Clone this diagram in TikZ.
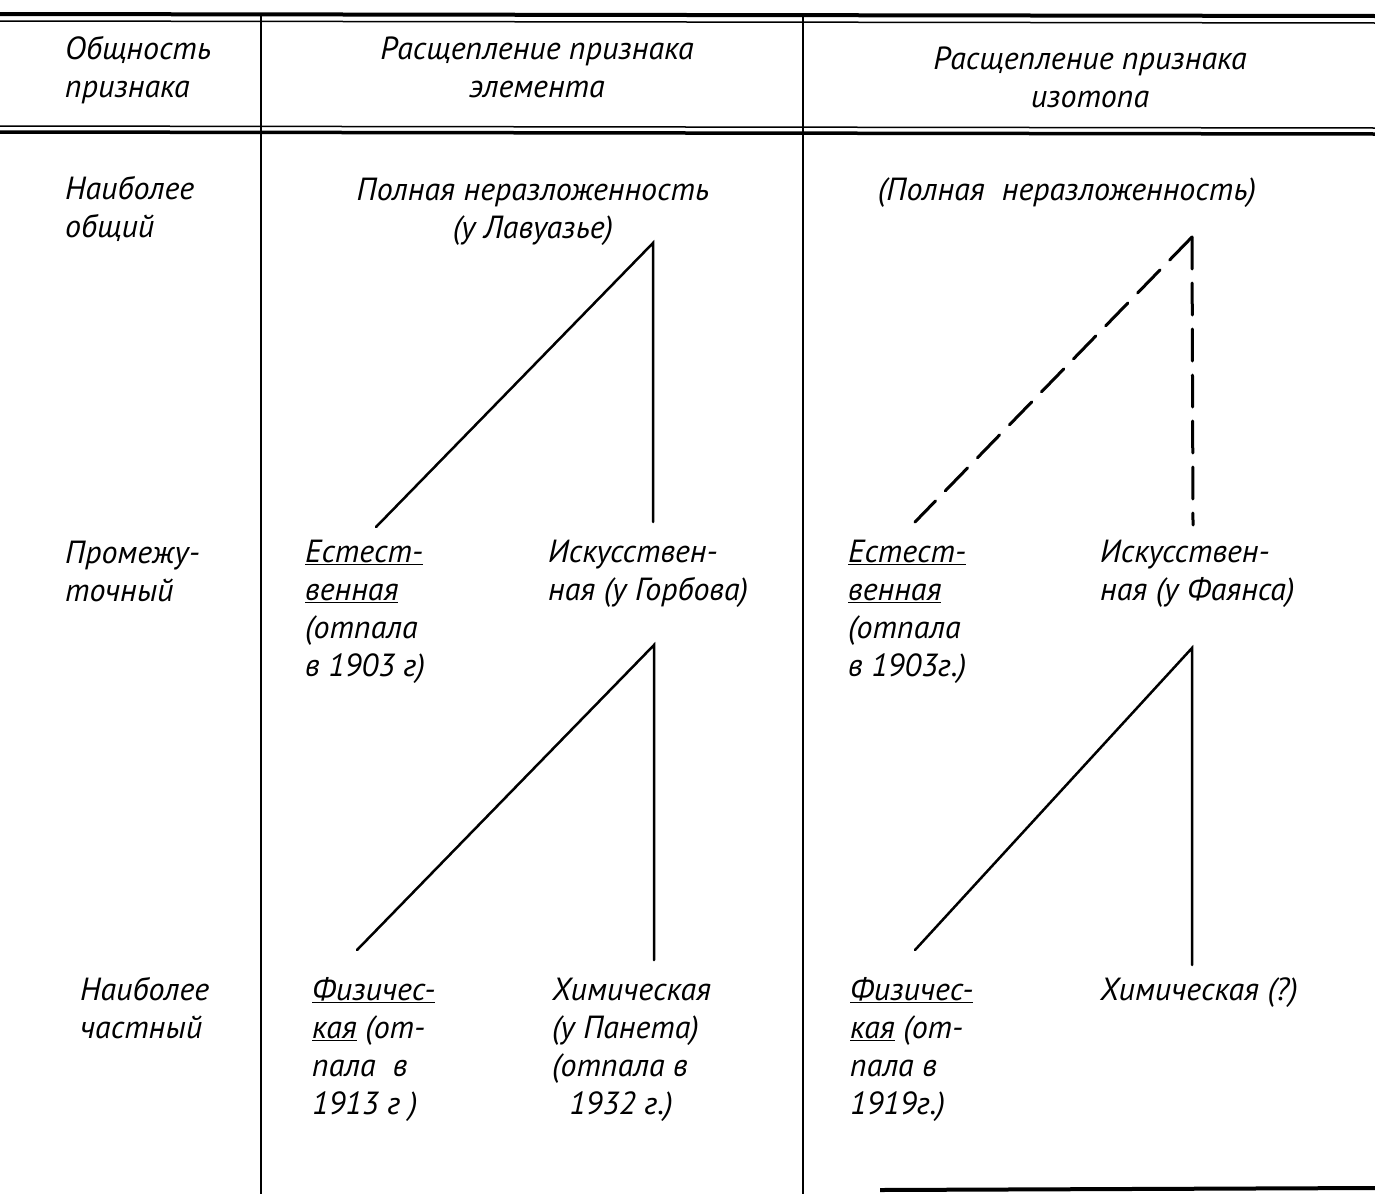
\documentclass[tikz,border=0pt]{standalone}
\usepackage{fontspec}
\setmainfont{PT Sans}
\newcommand{\mlL}[1]{\begin{tabular}[t]{@{}l@{}}#1\end{tabular}}
\newcommand{\mlC}[1]{\begin{tabular}[t]{@{}c@{}}#1\end{tabular}}
\newcommand{\ul}[1]{\underline{#1}}
\begin{document}
\begin{tikzpicture}[x=1pt,y=-1pt,
  txt/.style={inner sep=0pt, anchor=base west, font=\fontsize{32}{38}\selectfont\itshape},
  ctxt/.style={txt, anchor=base},
  rule/.style={line width=#1, line cap=butt},
  colline/.style={line width=2.5pt},
  edge/.style={line width=2.5pt, line cap=round},
  dashedge/.style={edge, line width=3pt, dash pattern=on 32pt off 14pt}]
\useasboundingbox (0,0) rectangle (1375,1194);
% rules
\draw[rule=4pt] (0,14) -- (1375,16);
\draw[rule=1.5pt] (0,21) -- (1375,23);
\draw[rule=1.5pt] (0,126) -- (1375,128);
\draw[rule=3.5pt] (0,132) -- (1375,134);
\draw[rule=4pt] (880,1190) -- (1375,1188);
% columns
\draw[colline] (261,14) -- (261,1194);
\draw[colline] (803,14) -- (803,1194);
% header
\node[txt] (h1) at (65,59) {\mlL{Общность\\признака}};
\node[ctxt] (h2) at (537,59) {\mlC{Расщепление признака\\элемента}};
\node[ctxt] (h3) at (1090,69) {\mlC{Расщепление признака\\изотопа}};
% row labels
\node[txt] (r1) at (65,199) {\mlL{Наиболее\\общий}};
\node[txt] (r2) at (65,563) {\mlL{Промежу-\\точный}};
\node[txt] (r3) at (80,1000) {\mlL{Наиболее\\частный}};
% element column
\node[ctxt] (e0) at (533,200) {\mlC{Полная неразложенность\\(у Лавуазье)}};
\node[txt] (e1) at (305,562) {\mlL{\ul{Естест-}\\\ul{венная}\\(отпала\\ в 1903 г)}};
\node[txt] (e2) at (548,562) {\mlL{Искусствен-\\ная (у Горбова)}};
\node[txt] (e3) at (312,1000) {\mlL{\ul{Физичес-}\\\ul{кая} (от-\\пала\ \ в\\1913 г )}};
\node[txt] (e4) at (552,1000) {\mlL{Химическая\\(у Панета)\\(отпала в\\\ \ 1932 г.)}};
% isotope column
\node[ctxt] (i0) at (1067,200) {(Полная\ \ неразложенность)};
\node[txt] (i1) at (848,562) {\mlL{\ul{Естест-}\\\ul{венная}\\(отпала\\в 1903г.)}};
\node[txt] (i2) at (1100,562) {\mlL{Искусствен-\\ная (у Фаянса)}};
\node[txt] (i3) at (850,1000) {\mlL{\ul{Физичес-}\\\ul{кая} (от-\\пала в\\1919г.)}};
\node[txt] (i4) at (1100,1000) {Химическая (?)};
% connector points
\coordinate (ea) at (653,243);
\coordinate (el) at (376,527);
\coordinate (er) at (653,522);
\coordinate (eb) at (654,645);
\coordinate (ebl) at (357,950);
\coordinate (ebr) at (654,960);
\coordinate (ia) at (1192,237);
\coordinate (il) at (915,522);
\coordinate (ir) at (1193,525);
\coordinate (ib) at (1192,648);
\coordinate (ibl) at (915,950);
\coordinate (ibr) at (1192,965);
% element trees
\draw[edge] (el) -- (ea) -- (er);
\draw[edge] (ebl) -- (eb) -- (ebr);
% isotope trees
\draw[dashedge] (ia) -- (il);
\draw[dashedge] (ia) -- (ir);
\draw[edge] (ibl) -- (ib) -- (ibr);
\end{tikzpicture}
\end{document}
